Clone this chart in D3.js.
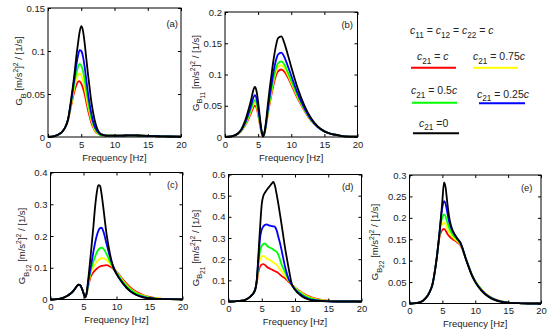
<!DOCTYPE html>
<html>
<head>
<meta charset="utf-8">
<script src="https://cdn.jsdelivr.net/npm/d3@7"></script>
<style>
body { margin: 0; background: #fff; }
text { font-family: "Liberation Sans", Arial, sans-serif; white-space: pre; }
</style>
</head>
<body>
<svg width="550" height="334"></svg>
<script>
// frequency grid [Hz], shared by every curve
const freq = [0, 1, 2, 2.5, 3, 3.5, 4, 4.25, 4.5, 4.75, 5, 5.25, 5.5, 5.75, 6, 6.25, 6.5, 6.75,
  7, 7.25, 7.5, 7.75, 8, 8.5, 9, 9.5, 10, 11, 12, 13, 14, 15, 16, 17, 18, 20];

const xTicks = [0, 5, 10, 15, 20];

// (a) G_B
const aTail = [0.002, 0.0015, 0.0015, 0.0015, 0.0015, 0.002, 0.002, 0.0015, 0.0012, 0.001, 0.0008, 0.0006, 0.0004];
const aRed = [0, 0.001, 0.005, 0.01, 0.019, 0.037, 0.054, 0.06, 0.064, 0.065, 0.062, 0.057, 0.05, 0.041, 0.032, 0.024, 0.017, 0.012, 0.008, 0.005, 0.004, 0.003, 0.002].concat(aTail);
const aYellow = [0, 0.001, 0.005, 0.01, 0.019, 0.039, 0.059, 0.067, 0.072, 0.074, 0.072, 0.066, 0.058, 0.047, 0.037, 0.028, 0.02, 0.014, 0.009, 0.006, 0.004, 0.003, 0.002].concat(aTail);
const aGreen = [0, 0.001, 0.005, 0.01, 0.02, 0.041, 0.064, 0.074, 0.081, 0.085, 0.083, 0.077, 0.067, 0.055, 0.043, 0.032, 0.023, 0.016, 0.011, 0.007, 0.005, 0.003, 0.002].concat(aTail);
const aBlue = [0, 0.001, 0.005, 0.01, 0.02, 0.043, 0.07, 0.083, 0.094, 0.101, 0.1, 0.094, 0.082, 0.067, 0.052, 0.039, 0.028, 0.019, 0.013, 0.009, 0.006, 0.004, 0.003].concat(aTail);
const aBlack = [0, 0.001, 0.005, 0.01, 0.02, 0.045, 0.075, 0.093, 0.108, 0.122, 0.129, 0.124, 0.11, 0.092, 0.074, 0.058, 0.042, 0.03, 0.02, 0.013, 0.008, 0.005, 0.003].concat(aTail);
const aTicks = [0, 0.05, 0.1, 0.15];

// (b) G_B11
const bRed = [0, 0.001, 0.005, 0.01, 0.018, 0.028, 0.04, 0.047, 0.05, 0.047, 0.036, 0.021, 0.007, 0.001, 0.007, 0.022, 0.039, 0.054, 0.067, 0.08, 0.091, 0.1, 0.105, 0.108, 0.104, 0.095, 0.084, 0.061, 0.042, 0.026, 0.016, 0.009, 0.005, 0.003, 0.001, 0.0005];
const bYellow = [0, 0.001, 0.005, 0.011, 0.019, 0.03, 0.044, 0.051, 0.055, 0.051, 0.039, 0.023, 0.008, 0.001, 0.008, 0.023, 0.041, 0.057, 0.071, 0.085, 0.097, 0.106, 0.112, 0.115, 0.11, 0.099, 0.087, 0.063, 0.043, 0.027, 0.016, 0.009, 0.005, 0.003, 0.001, 0.0005];
const bGreen = [0, 0.001, 0.006, 0.011, 0.02, 0.032, 0.047, 0.055, 0.059, 0.055, 0.042, 0.025, 0.009, 0.001, 0.008, 0.024, 0.043, 0.06, 0.075, 0.09, 0.102, 0.112, 0.118, 0.121, 0.115, 0.103, 0.09, 0.065, 0.044, 0.027, 0.016, 0.009, 0.005, 0.003, 0.001, 0.0005];
const bBlue = [0, 0.001, 0.006, 0.012, 0.022, 0.036, 0.053, 0.062, 0.067, 0.062, 0.047, 0.028, 0.01, 0.001, 0.009, 0.026, 0.047, 0.066, 0.083, 0.1, 0.114, 0.125, 0.132, 0.135, 0.127, 0.113, 0.098, 0.069, 0.046, 0.028, 0.016, 0.009, 0.005, 0.003, 0.001, 0.0005];
const bBlack = [0, 0.001, 0.006, 0.013, 0.025, 0.042, 0.062, 0.074, 0.08, 0.074, 0.056, 0.033, 0.012, 0.001, 0.01, 0.03, 0.055, 0.078, 0.098, 0.118, 0.135, 0.149, 0.158, 0.161, 0.149, 0.131, 0.112, 0.077, 0.05, 0.03, 0.017, 0.009, 0.005, 0.003, 0.001, 0.0005];
const bTicks = [0, 0.05, 0.1, 0.15, 0.2];

// (c) G_B12
const cHead = [0, 0.001, 0.006, 0.011, 0.018, 0.028, 0.042, 0.047, 0.045, 0.035, 0.02, 0.007];
const cRed = cHead.concat([0.02, 0.045, 0.066, 0.078, 0.086, 0.092, 0.097, 0.101, 0.104, 0.106, 0.107, 0.108, 0.104, 0.097, 0.088, 0.062, 0.04, 0.024, 0.014, 0.008, 0.004, 0.002, 0.001, 0.0005]);
const cYellow = cHead.concat([0.02, 0.05, 0.075, 0.09, 0.102, 0.111, 0.118, 0.124, 0.128, 0.13, 0.13, 0.124, 0.113, 0.1, 0.087, 0.058, 0.036, 0.021, 0.012, 0.007, 0.004, 0.002, 0.001, 0.0005]);
const cGreen = cHead.concat([0.02, 0.055, 0.083, 0.103, 0.12, 0.135, 0.148, 0.157, 0.162, 0.163, 0.16, 0.143, 0.12, 0.1, 0.085, 0.055, 0.033, 0.019, 0.011, 0.006, 0.003, 0.002, 0.001, 0.0005]);
const cBlue = cHead.concat([0.022, 0.06, 0.09, 0.12, 0.15, 0.178, 0.2, 0.216, 0.225, 0.226, 0.215, 0.175, 0.135, 0.105, 0.082, 0.05, 0.028, 0.015, 0.008, 0.004, 0.002, 0.001, 0.001, 0.0005]);
const cBlack = cHead.concat([0.025, 0.07, 0.12, 0.175, 0.23, 0.29, 0.335, 0.36, 0.358, 0.33, 0.29, 0.205, 0.145, 0.102, 0.08, 0.05, 0.027, 0.014, 0.007, 0.004, 0.002, 0.001, 0.001, 0.0005]);
const cTicks = [0, 0.1, 0.2, 0.3, 0.4];

// (d) G_B21
const dHead = [0, 0.001, 0.004, 0.008, 0.016, 0.03, 0.055];
const dRed = dHead.concat([0.09, 0.14, 0.166, 0.175, 0.177, 0.172, 0.164, 0.159, 0.155, 0.151, 0.147, 0.143, 0.139, 0.134, 0.127, 0.12, 0.11, 0.095, 0.078, 0.065, 0.043, 0.026, 0.015, 0.008, 0.004, 0.002, 0.001, 0.0005, 0]);
const dYellow = dHead.concat([0.095, 0.16, 0.2, 0.212, 0.216, 0.21, 0.203, 0.199, 0.196, 0.19, 0.184, 0.179, 0.173, 0.163, 0.152, 0.143, 0.122, 0.1, 0.08, 0.064, 0.04, 0.022, 0.012, 0.006, 0.003, 0.001, 0.0005, 0, 0]);
const dGreen = dHead.concat([0.1, 0.18, 0.24, 0.263, 0.272, 0.275, 0.265, 0.258, 0.254, 0.25, 0.245, 0.24, 0.235, 0.22, 0.198, 0.173, 0.14, 0.105, 0.08, 0.062, 0.035, 0.018, 0.009, 0.004, 0.002, 0.001, 0, 0, 0]);
const dBlue = dHead.concat([0.1, 0.2, 0.3, 0.34, 0.355, 0.362, 0.364, 0.361, 0.358, 0.356, 0.355, 0.352, 0.335, 0.305, 0.275, 0.24, 0.165, 0.11, 0.08, 0.058, 0.03, 0.013, 0.006, 0.003, 0.001, 0, 0, 0, 0]);
const dBlack = dHead.concat([0.1, 0.22, 0.35, 0.46, 0.5, 0.515, 0.527, 0.537, 0.547, 0.557, 0.565, 0.545, 0.505, 0.46, 0.41, 0.36, 0.255, 0.165, 0.085, 0.055, 0.025, 0.01, 0.004, 0.002, 0.001, 0, 0, 0, 0]);
const dTicks = [0, 0.1, 0.2, 0.3, 0.4, 0.5, 0.6];

// (e) G_B22
const eHead = [0, 0.001, 0.006, 0.013, 0.025, 0.045, 0.09, 0.12];
const eRed = eHead.concat([0.15, 0.165, 0.172, 0.174, 0.17, 0.163, 0.158, 0.154, 0.151, 0.148, 0.146, 0.143, 0.14, 0.136, 0.128, 0.108, 0.087, 0.067, 0.052, 0.032, 0.018, 0.01, 0.005, 0.002, 0.001, 0.0005, 0, 0]);
const eYellow = eHead.concat([0.153, 0.175, 0.186, 0.189, 0.185, 0.175, 0.167, 0.161, 0.156, 0.152, 0.149, 0.146, 0.142, 0.138, 0.13, 0.109, 0.088, 0.068, 0.053, 0.032, 0.018, 0.01, 0.005, 0.002, 0.001, 0.0005, 0, 0]);
const eGreen = eHead.concat([0.155, 0.185, 0.202, 0.208, 0.203, 0.19, 0.178, 0.169, 0.162, 0.157, 0.153, 0.149, 0.145, 0.14, 0.131, 0.108, 0.087, 0.067, 0.052, 0.031, 0.017, 0.009, 0.005, 0.002, 0.001, 0.0005, 0, 0]);
const eBlue = eHead.concat([0.155, 0.195, 0.225, 0.239, 0.232, 0.212, 0.193, 0.18, 0.17, 0.163, 0.157, 0.152, 0.147, 0.141, 0.132, 0.108, 0.086, 0.066, 0.051, 0.03, 0.017, 0.009, 0.0045, 0.002, 0.001, 0.0005, 0, 0]);
const eBlack = eHead.concat([0.155, 0.195, 0.24, 0.283, 0.27, 0.235, 0.205, 0.185, 0.173, 0.165, 0.158, 0.152, 0.147, 0.142, 0.132, 0.107, 0.085, 0.065, 0.05, 0.029, 0.016, 0.008, 0.004, 0.002, 0.001, 0.0005, 0, 0]);
const eTicks = [0, 0.05, 0.1, 0.15, 0.2, 0.25, 0.3];

const colors = ['#ff0000', '#ffff00', '#00ff00', '#0000ff', '#000000'];
const legendLabels = ['c', '0.75c', '0.5c', '0.25c', '0'];

const svg = d3.select('svg');

// rich text helper: n normal, i italic, s sub, ss sub-sub, p superscript
function rich(text, parts, base) {
    let cur = 0;
    parts.forEach(([str, kind]) => {
        const off = { s: 3.5, ss: 6, p: -4 }[kind] || 0;
        const k = { s: 0.78, ss: 0.7, p: 0.72 }[kind] || 1;
        text.append('tspan')
            .attr('dy', off - cur)
            .attr('font-size', base * k)
            .attr('font-style', kind === 'i' ? 'italic' : null)
            .text(str);
        cur = off;
    });
}

const panels = [
    { series: [aRed, aYellow, aGreen, aBlue, aBlack], ticks: aTicks, sub: '',
      left: 48, right: 181, top: 8, bottom: 137, tag: '(a)', tagX: 178, tagY: 27, labX: 22, labY: 71 },
    { series: [bRed, bYellow, bGreen, bBlue, bBlack], ticks: bTicks, sub: '11',
      left: 225, right: 357.5, top: 12, bottom: 137, tag: '(b)', tagX: 353, tagY: 28, labX: 198.5, labY: 73 },
    { series: [cRed, cYellow, cGreen, cBlue, cBlack], ticks: cTicks, sub: '12',
      left: 50.5, right: 182.5, top: 172.5, bottom: 299.5, tag: '(c)', tagX: 178, tagY: 187.5, labX: 25, labY: 246 },
    { series: [dRed, dYellow, dGreen, dBlue, dBlack], ticks: dTicks, sub: '21',
      left: 228.5, right: 361.5, top: 174.5, bottom: 301.5, tag: '(d)', tagX: 353.5, tagY: 190, labX: 198.5, labY: 248 },
    { series: [eRed, eYellow, eGreen, eBlue, eBlack], ticks: eTicks, sub: '22',
      left: 409.5, right: 541, top: 175, bottom: 303.5, tag: '(e)', tagX: 532.5, tagY: 191, labX: 378, labY: 242 }
];

const fmt = d3.format('~g');

panels.forEach(p => {
    const x = d3.scaleLinear().domain([0, 20]).range([p.left, p.right]);
    const y = d3.scaleLinear().domain([0, d3.max(p.ticks)]).range([p.bottom, p.top]);
    const g = svg.append('g');

    const line = d3.line()
        .x((d, i) => x(freq[i]))
        .y(d => y(d))
        .curve(d3.curveMonotoneX);

    p.series.forEach((s, i) => {
        g.append('path')
            .attr('d', line(s))
            .attr('fill', 'none')
            .attr('stroke', colors[i])
            .attr('stroke-width', 1.8)
            .attr('stroke-linejoin', 'round');
    });

    const styleAxis = a => {
        a.select('.domain').remove();
        a.selectAll('line').attr('stroke', '#000');
        a.selectAll('text').attr('font-size', 9.5).attr('fill', '#222')
            .attr('font-family', '"Liberation Sans", Arial, sans-serif');
    };

    g.append('g').attr('transform', `translate(0,${p.bottom})`)
        .call(d3.axisBottom(x).tickValues(xTicks).tickFormat(fmt).tickSizeInner(-3).tickSizeOuter(0).tickPadding(4))
        .call(styleAxis);
    g.append('g').attr('transform', `translate(0,${p.top})`)
        .call(d3.axisTop(x).tickValues(xTicks).tickFormat('').tickSizeInner(-3).tickSizeOuter(0))
        .call(styleAxis);
    g.append('g').attr('transform', `translate(${p.left},0)`)
        .call(d3.axisLeft(y).tickValues(p.ticks).tickFormat(fmt).tickSizeInner(-3).tickSizeOuter(0).tickPadding(3))
        .call(styleAxis);
    g.append('g').attr('transform', `translate(${p.right},0)`)
        .call(d3.axisRight(y).tickValues(p.ticks).tickFormat('').tickSizeInner(-3).tickSizeOuter(0))
        .call(styleAxis);

    g.append('rect')
        .attr('x', p.left).attr('y', p.top)
        .attr('width', p.right - p.left).attr('height', p.bottom - p.top)
        .attr('fill', 'none').attr('stroke', '#000').attr('stroke-width', 1);

    g.append('text')
        .attr('x', p.tagX).attr('y', p.tagY)
        .attr('text-anchor', 'end').attr('font-size', 9.5).attr('fill', '#222')
        .text(p.tag);

    g.append('text')
        .attr('x', (p.left + p.right) / 2).attr('y', p.bottom + 23.5)
        .attr('text-anchor', 'middle').attr('font-size', 9.5).attr('fill', '#222')
        .text('Frequency [Hz]');

    const parts = [['G', 'n'], ['B', 's']];
    if (p.sub) parts.push([p.sub, 'ss']);
    parts.push([' [m/s', 'n'], ['2', 'p'], [']', 'n'], ['2', 'p'], [' / [1/s]', 'n']);
    const yl = g.append('text')
        .attr('transform', `translate(${p.labX},${p.labY}) rotate(-90)`)
        .attr('text-anchor', 'middle').attr('fill', '#222');
    rich(yl, parts, 9.5);
});

// legend
const lg = svg.append('g');
const title = lg.append('text').attr('x', 410).attr('y', 34).attr('fill', '#222');
rich(title, [['c', 'i'], ['11', 's'], [' = ', 'n'], ['c', 'i'], ['12', 's'], [' = ', 'n'],
    ['c', 'i'], ['22', 's'], [' = ', 'n'], ['c', 'i']], 10.5);

const legendPos = [
    { tx: 417, ty: 60, x1: 411, x2: 456, ly: 67.7 },
    { tx: 473, ty: 60, x1: 473, x2: 518, ly: 67.7 },
    { tx: 411, ty: 94, x1: 412, x2: 457, ly: 102.7 },
    { tx: 477, ty: 97.5, x1: 479, x2: 525, ly: 103.3 },
    { tx: 419, ty: 126.5, x1: 413, x2: 459, ly: 133.3 }
];

legendLabels.forEach((lab, i) => {
    const pos = legendPos[i];
    const t = lg.append('text').attr('x', pos.tx).attr('y', pos.ty).attr('fill', '#222');
    const parts = [['c', 'i'], ['21', 's'], [i === 4 ? ' =' : ' = ', 'n']];
    if (lab.endsWith('c')) {
        if (lab.length > 1) parts.push([lab.slice(0, -1), 'n']);
        parts.push(['c', 'i']);
    } else {
        parts.push([lab, 'n']);
    }
    rich(t, parts, 10.5);
    lg.append('line')
        .attr('x1', pos.x1).attr('x2', pos.x2)
        .attr('y1', pos.ly).attr('y2', pos.ly)
        .attr('stroke', colors[i]).attr('stroke-width', 2);
});
</script>
</body>
</html>
